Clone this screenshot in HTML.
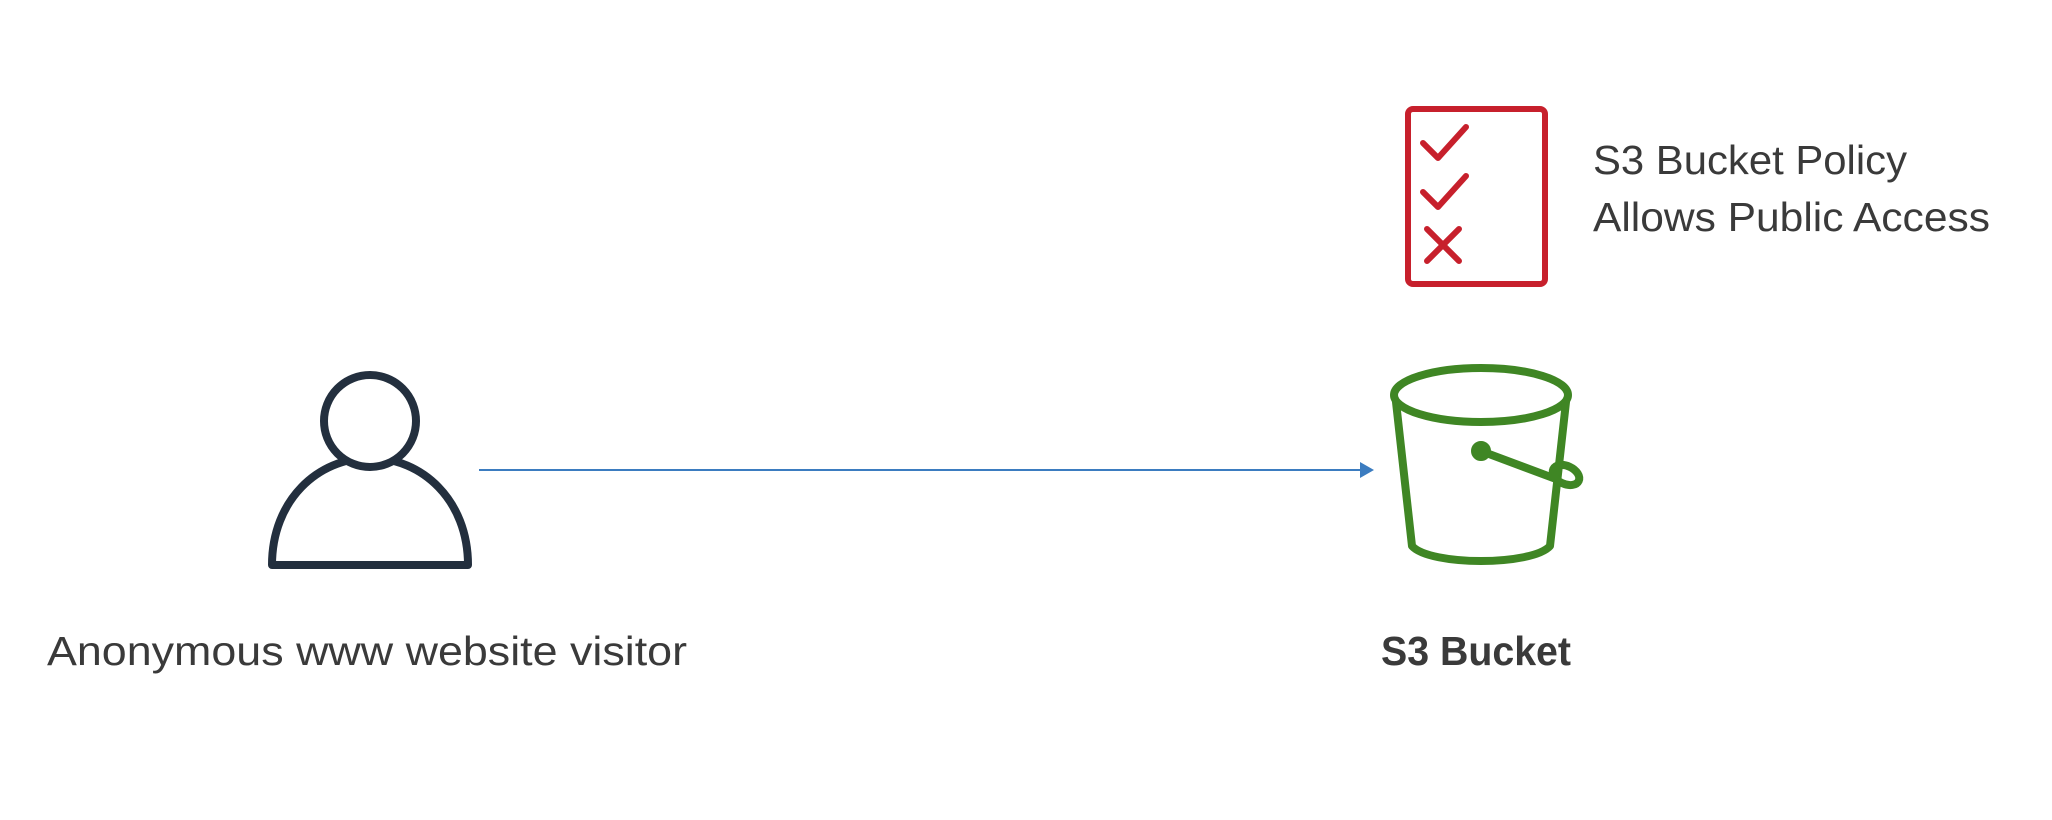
<!DOCTYPE html>
<html><head><meta charset="utf-8"><style>
html,body{margin:0;padding:0;background:#fff;}
svg{display:block;}
text{font-family:"Liberation Sans",sans-serif;fill:#3a3a3a;}
</style></head><body>
<svg width="2052" height="820" viewBox="0 0 2052 820">
  <g fill="none" stroke="#c7202c" stroke-width="6" stroke-linecap="round" stroke-linejoin="round">
    <rect x="1408" y="109" width="137" height="175" rx="5"/>
    <polyline points="1423,143 1438,158 1466,127"/>
    <polyline points="1423,192 1438,207 1466,176"/>
    <line x1="1427" y1="229" x2="1459" y2="261"/>
    <line x1="1459" y1="229" x2="1427" y2="261"/>
  </g>
  <text x="1593" y="174" font-size="41" textLength="314" lengthAdjust="spacingAndGlyphs">S3 Bucket Policy</text>
  <text x="1593" y="231" font-size="41" textLength="397" lengthAdjust="spacingAndGlyphs">Allows Public Access</text>

  <g stroke="#232f3e" stroke-width="8" stroke-linejoin="round">
    <path d="M272,565 C272,500 318,458 370,458 C422,458 468,500 468,565 Z" fill="#fff"/>
    <circle cx="370" cy="421" r="46" fill="#fff"/>
  </g>

  <g>
    <line x1="479" y1="470" x2="1362" y2="470" stroke="#3b7cc0" stroke-width="2"/>
    <polygon points="1360,462 1374,470 1360,478" fill="#3b7cc0"/>
  </g>

  <g fill="none" stroke="#3f8624" stroke-width="8" stroke-linecap="round" stroke-linejoin="round">
    <ellipse cx="1481" cy="395" rx="87" ry="27"/>
    <path d="M1396,402 L1412,546 C1430,566 1532,566 1550,546 L1566,402"/>
    <line x1="1481" y1="451" x2="1556" y2="479"/>
    <ellipse cx="1566" cy="475" rx="14" ry="9" transform="rotate(25 1566 475)"/>
    <circle cx="1481" cy="451" r="6" fill="#3f8624"/>
  </g>

  <text x="47" y="665" font-size="41" textLength="640" lengthAdjust="spacingAndGlyphs">Anonymous www website visitor</text>
  <text x="1381" y="665" font-size="41" font-weight="bold" textLength="190" lengthAdjust="spacingAndGlyphs">S3 Bucket</text>
</svg>
</body></html>
